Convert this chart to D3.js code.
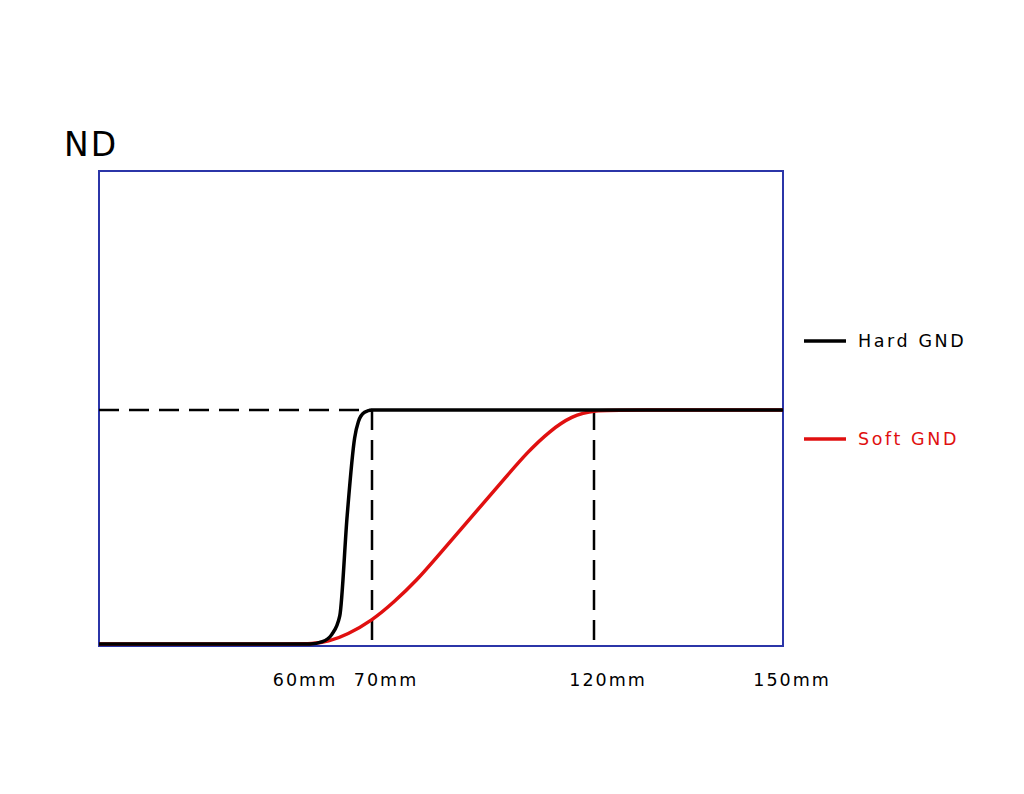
<!DOCTYPE html>
<html><head><meta charset="utf-8">
<script src="https://d3js.org/d3.v7.min.js"></script>
<style>body{margin:0;background:#fff}text{font-family:"DejaVu Sans",sans-serif}</style>
</head><body><svg id="c" width="1024" height="794"></svg>
<script>
const tickLabels = ["60mm","70mm","120mm","150mm"];
const tickValues = [60,70,120,150];
const hardX = [0,60,62,63.5,64.8,66,67.2,67.8,68.8,70,150];
const hardY = [0,0,0.01,0.04,0.12,0.55,0.88,0.95,0.99,1,1];
const softX = [0,58,60,63,66,70,75,80,85,90,95,100,105,110,115,120,125,150];
const softY = [0,0,0,0.01,0.04,0.1,0.18,0.27,0.38,0.49,0.6,0.71,0.82,0.91,0.975,1,1,1];
const legend = [{name:"Hard GND",color:"#000"},{name:"Soft GND",color:"#e01010"}];

const svg = d3.select("#c");
const x = d3.scaleLinear().domain([0,60,70,120,150]).range([99,310,372,594,783]);
const y = d3.scaleLinear().domain([0,1,2.02]).range([644,410,171]);

svg.append("rect").attr("x",x(0)).attr("y",y(2.02)).attr("width",x(150)-x(0)).attr("height",y(0)-y(2.02)+2)
  .attr("fill","none").attr("stroke","#2b35a8").attr("stroke-width",2);

const dash = "20,10";
svg.append("line").attr("x1",x(0)).attr("x2",x(70)).attr("y1",y(1)).attr("y2",y(1)).attr("stroke","#000").attr("stroke-width",2.5).attr("stroke-dasharray",dash);
[70,120].forEach(v=>svg.append("line").attr("x1",x(v)).attr("x2",x(v)).attr("y1",y(1)).attr("y2",y(0)+2).attr("stroke","#000").attr("stroke-width",2.5).attr("stroke-dasharray",dash));

const lineM = d3.line().x(d=>x(d[0])).y(d=>y(d[1])).curve(d3.curveMonotoneX);
const lineB = d3.line().x(d=>x(d[0])).y(d=>y(d[1])).curve(d3.curveBasis);
svg.append("path").attr("d",lineB(softX.map((v,i)=>[v,softY[i]]))).attr("fill","none").attr("stroke","#e01010").attr("stroke-width",3.5);
svg.append("path").attr("d",lineM(hardX.map((v,i)=>[v,hardY[i]]))).attr("fill","none").attr("stroke","#000").attr("stroke-width",3.5);

tickValues.forEach((v,i)=>svg.append("text").attr("x",x(v)+(i==0?-5:i==3?9:14)).attr("y",686).attr("text-anchor","middle")
  .attr("font-size",17.5).attr("letter-spacing",2).text(tickLabels[i]));

svg.append("text").attr("x",64).attr("y",156).attr("font-size",33).attr("letter-spacing",2).text("ND");

legend.forEach((d,i)=>{
  const ly = 341 + i*98;
  svg.append("line").attr("x1",804).attr("x2",846).attr("y1",ly).attr("y2",ly).attr("stroke",d.color).attr("stroke-width",3.5);
  svg.append("text").attr("x",858).attr("y",ly+6).attr("font-size",17.5).attr("letter-spacing",2.6).attr("fill",d.color).text(d.name);
});
</script></body></html>
